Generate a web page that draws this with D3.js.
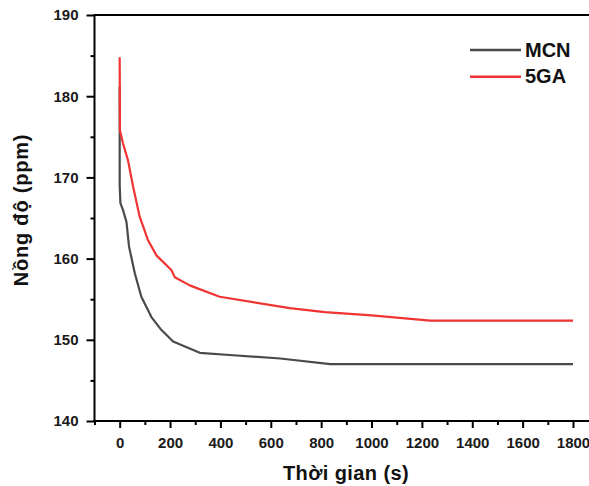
<!DOCTYPE html>
<html>
<head>
<meta charset="utf-8">
<script src="https://cdn.jsdelivr.net/npm/d3@7"></script>
<style>
  html, body { margin: 0; padding: 0; background: #fff; }
  svg { display: block; font-family: "Liberation Sans", Arial, sans-serif; }
</style>
</head>
<body>
<svg id="chart" width="589" height="486"></svg>
<script>
// ---- data ----
const mcnTime  = [0, 0, 3, 13, 27, 37, 60, 86, 126, 166, 212, 318, 450, 638, 836, 1800];
const mcnValue = [181.2, 169.0, 166.8, 166.0, 164.5, 161.5, 158.2, 155.3, 152.8, 151.2, 149.8, 148.4, 148.1, 147.7, 147.0, 147.0];
const gaTime   = [0, 1, 13, 33, 53, 79, 112, 146, 205, 219, 278, 397, 675, 815, 1000, 1233, 1800];
const gaValue  = [184.8, 175.8, 174.2, 172.1, 168.9, 165.2, 162.3, 160.4, 158.6, 157.7, 156.7, 155.3, 153.9, 153.4, 153.0, 152.35, 152.35];
const seriesNames = ["MCN", "5GA"];
const seriesColors = ["#4a4a4a", "#f03333"];
const xMajorTicks = [0, 200, 400, 600, 800, 1000, 1200, 1400, 1600, 1800];
const xMinorTicks = [-100, 100, 300, 500, 700, 900, 1100, 1300, 1500, 1700];
const yMajorTicks = [140, 150, 160, 170, 180, 190];
const yMinorTicks = [145, 155, 165, 175, 185];
const xTitle = "Thời gian (s)";
const yTitle = "Nồng độ (ppm)";

// ---- layout ----
const svg = d3.select("#chart");
const x = d3.scaleLinear().domain([-100, 1800]).range([94.5, 573]);
const y = d3.scaleLinear().domain([140, 190]).range([421, 15]);
const xRightEdge = x(1890);

// frame (top and right)
svg.append("path")
  .attr("d", `M${x(-100)},${y(190)} H${xRightEdge} V${y(140)}`)
  .attr("fill", "none").attr("stroke", "#000").attr("stroke-width", 2);

// x axis
const xAxisG = svg.append("g").attr("transform", `translate(0,${y(140)})`);
xAxisG.call(d3.axisBottom(x).tickValues(xMajorTicks).tickSize(7).tickPadding(9).tickFormat(d3.format("d")));
xAxisG.append("g").call(d3.axisBottom(x).tickValues(xMinorTicks).tickSize(4).tickFormat(""));
xAxisG.selectAll(".domain").remove();
svg.append("line").attr("x1", x(-100) - 1).attr("x2", xRightEdge).attr("y1", y(140)).attr("y2", y(140))
  .attr("stroke", "#000").attr("stroke-width", 2);

// y axis
const yAxisG = svg.append("g").attr("transform", `translate(${x(-100)},0)`);
yAxisG.call(d3.axisLeft(y).tickValues(yMajorTicks).tickSize(8).tickPadding(8).tickFormat(d3.format("d")));
yAxisG.append("g").call(d3.axisLeft(y).tickValues(yMinorTicks).tickSize(4).tickFormat(""));
yAxisG.selectAll(".domain").remove();
svg.append("line").attr("x1", x(-100)).attr("x2", x(-100)).attr("y1", y(190) - 1).attr("y2", y(140) + 1)
  .attr("stroke", "#000").attr("stroke-width", 2);

svg.selectAll(".tick line").attr("stroke", "#000").attr("stroke-width", 2);
svg.selectAll(".tick text").attr("font-size", 15).attr("font-weight", "bold").attr("fill", "#1a1a1a")
  .attr("font-family", "'Liberation Sans', Arial, sans-serif");

// axis titles
svg.append("text").attr("x", 346).attr("y", 480).attr("text-anchor", "middle")
  .attr("font-size", 20).attr("font-weight", "bold").attr("fill", "#111")
  .attr("letter-spacing", 0.4).text(xTitle);
svg.append("text").attr("transform", `translate(28,210) rotate(-90)`).attr("text-anchor", "middle")
  .attr("font-size", 20).attr("font-weight", "bold").attr("fill", "#111")
  .attr("letter-spacing", 0.8).text(yTitle);

// lines
const line = d3.line().x(d => x(d[0])).y(d => y(d[1]));
const mcnData = mcnTime.map((t, i) => [t, mcnValue[i]]);
const gaData = gaTime.map((t, i) => [t, gaValue[i]]);
svg.append("path").datum(mcnData).attr("d", line).attr("fill", "none")
  .attr("stroke", seriesColors[0]).attr("stroke-width", 2.2).attr("stroke-linejoin", "round");
svg.append("path").datum(gaData).attr("d", line).attr("fill", "none")
  .attr("stroke", seriesColors[1]).attr("stroke-width", 2.2).attr("stroke-linejoin", "round");

// legend
const legend = svg.append("g");
seriesNames.forEach((name, i) => {
  const ly = 50 + i * 26.7;
  legend.append("line").attr("x1", 470).attr("x2", 521).attr("y1", ly).attr("y2", ly)
    .attr("stroke", seriesColors[i]).attr("stroke-width", 2.5);
  legend.append("text").attr("x", 525).attr("y", ly + 6.7).attr("font-size", 20)
    .attr("font-weight", "bold").attr("fill", "#111").text(name);
});
</script>
</body>
</html>
